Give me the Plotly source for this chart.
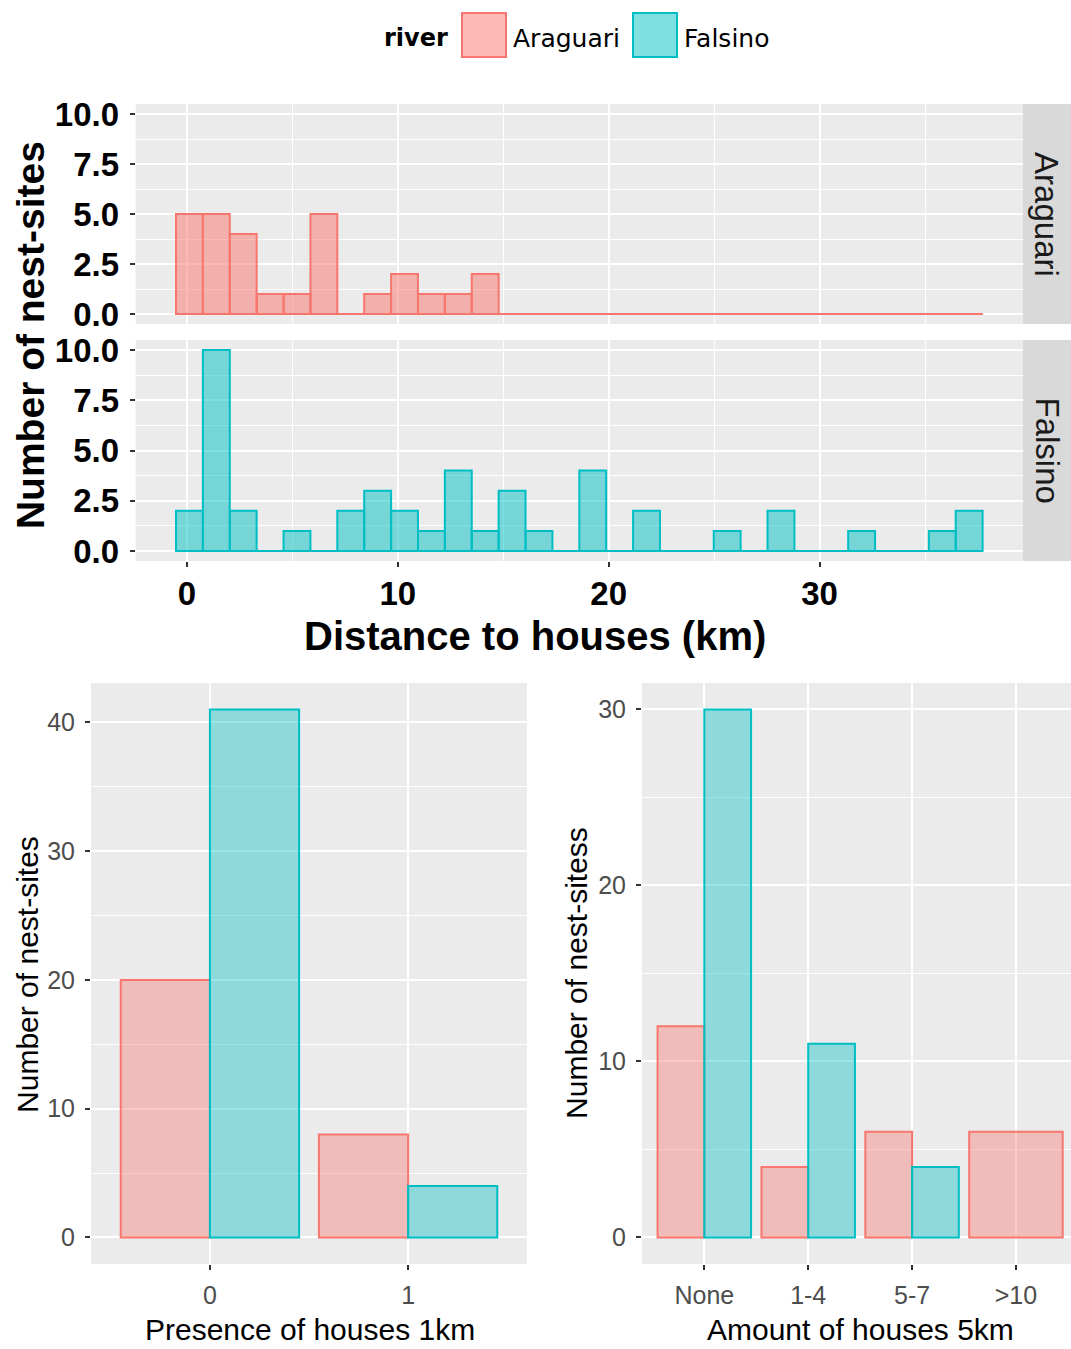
import plotly.graph_objects as go

# ---------------- data ----------------
river_names = ["Araguari", "Falsino"]

# histogram of distance to houses (km): 30 bins
hist_bin_start = -0.52      # left edge of first bin (km)
hist_bin_width = 1.275      # bin width (km)
araguari_counts = [5, 5, 4, 1, 1, 5, 0, 1, 2, 1, 1, 2, 0, 0, 0,
                   0, 0, 0, 0, 0, 0, 0, 0, 0, 0, 0, 0, 0, 0, 0]
falsino_counts = [2, 10, 2, 0, 1, 0, 2, 3, 2, 1, 4, 1, 3, 1, 0,
                  4, 0, 2, 0, 0, 1, 0, 2, 0, 0, 1, 0, 0, 1, 2]

presence_categories = ["0", "1"]
presence_araguari = [20, 8]
presence_falsino = [41, 4]

amount_categories = ["None", "1-4", "5-7", ">10"]
amount_araguari = [12, 4, 6, 6]
amount_falsino = [30, 11, 4, None]

# ---------------- style ----------------
W, H = 1071, 1349
ARA = "#F8766D"
FAL = "#00BFC4"
ARA_FILL_TOP = "rgba(248,118,109,0.5)"
FAL_FILL_TOP = "rgba(0,191,196,0.5)"
ARA_FILL_BOT = "rgba(248,118,109,0.4)"
FAL_FILL_BOT = "rgba(0,191,196,0.4)"
BG = "#EBEBEB"
FONT = "Liberation Sans"

# observed vertical rendering: y_shown ~= 7.9 + 0.9883 * y_layout
V_OFF, V_SCALE = 7.9, 0.9883


def px(x):
    return x / W


def py(y):
    return 1 - ((y - V_OFF) / V_SCALE) / H


n_bins = len(araguari_counts)
bin_centers = [hist_bin_start + (i + 0.5) * hist_bin_width for i in range(n_bins)]
hist_left = hist_bin_start
hist_right = hist_bin_start + n_bins * hist_bin_width

fig = go.Figure()

# ---- histogram panels ----
for counts, fill, line, xa, ya in [
    (araguari_counts, ARA_FILL_TOP, ARA, "x", "y"),
    (falsino_counts, FAL_FILL_TOP, FAL, "x2", "y2"),
]:
    fig.add_trace(go.Scatter(
        x=[hist_left, hist_right], y=[0, 0], mode="lines",
        line=dict(color=line, width=2), xaxis=xa, yaxis=ya,
        showlegend=False, hoverinfo="skip"))
    fig.add_trace(go.Bar(
        x=bin_centers, y=counts, width=[hist_bin_width] * n_bins,
        marker=dict(color=fill, line=dict(color=line, width=2)),
        xaxis=xa, yaxis=ya, showlegend=False))


def dodge(a_vals, f_vals):
    a_w, a_o, f_w, f_o = [], [], [], []
    for a, f in zip(a_vals, f_vals):
        if a is not None and f is not None:
            a_w.append(0.45); a_o.append(-0.45)
            f_w.append(0.45); f_o.append(0.0)
        else:
            a_w.append(0.9); a_o.append(-0.45)
            f_w.append(0.9); f_o.append(-0.45)
    return a_w, a_o, f_w, f_o


for cats, a_vals, f_vals, xa, ya in [
    (presence_categories, presence_araguari, presence_falsino, "x3", "y3"),
    (amount_categories, amount_araguari, amount_falsino, "x4", "y4"),
]:
    a_w, a_o, f_w, f_o = dodge(a_vals, f_vals)
    fig.add_trace(go.Bar(
        x=cats, y=a_vals, width=a_w, offset=a_o,
        marker=dict(color=ARA_FILL_BOT, line=dict(color=ARA, width=2)),
        xaxis=xa, yaxis=ya, showlegend=False, name=river_names[0]))
    fig.add_trace(go.Bar(
        x=cats, y=f_vals, width=f_w, offset=f_o,
        marker=dict(color=FAL_FILL_BOT, line=dict(color=FAL, width=2)),
        xaxis=xa, yaxis=ya, showlegend=False, name=river_names[1]))

grid = dict(showgrid=True, gridcolor="white", gridwidth=2.2, zeroline=False,
            showline=False)
minor_grid = lambda d: dict(dtick=d, showgrid=True, gridcolor="white",
                            gridwidth=1.1, ticks="")
tick_top = dict(ticks="outside", ticklen=5, tickwidth=1.5, tickcolor="#333333",
                tickfont=dict(family=FONT, size=33, color="black", weight="bold"))
tick_bot = dict(ticks="outside", ticklen=5, tickwidth=1.5, tickcolor="#333333",
                tickfont=dict(family=FONT, size=25, color="#4D4D4D"))

hx_dom = [px(135.7), px(1022.7)]
fig.update_layout(
    width=W, height=H,
    margin=dict(l=0, r=0, t=0, b=0),
    paper_bgcolor="white", plot_bgcolor=BG,
    barmode="overlay",
    xaxis=dict(domain=hx_dom, range=[-2.43, 39.63], anchor="y",
               tick0=0, dtick=10, showticklabels=False, ticks="",
               minor=minor_grid(5), **grid),
    yaxis=dict(domain=[py(324), py(104)], range=[-0.5, 10.5], anchor="x",
               tick0=0, dtick=2.5, tickformat=".1f", ticklabelstandoff=4,
               minor=minor_grid(1.25), **grid, **tick_top),
    xaxis2=dict(domain=hx_dom, range=[-2.43, 39.63], anchor="y2",
                tick0=0, dtick=10, ticklabelstandoff=-2,
                minor=minor_grid(5), **grid, **tick_top),
    yaxis2=dict(domain=[py(561), py(340)], range=[-0.5, 10.5], anchor="x2",
                tick0=0, dtick=2.5, tickformat=".1f", ticklabelstandoff=4,
                minor=minor_grid(1.25), **grid, **tick_top),
    xaxis3=dict(domain=[px(91), px(527)], type="category", range=[-0.6, 1.6],
                anchor="y3", ticklabelstandoff=4, **grid, **tick_bot),
    yaxis3=dict(domain=[py(1264), py(683)], range=[-2.05, 43.05], anchor="x3",
                tick0=0, dtick=10, ticklabelstandoff=5,
                minor=minor_grid(5), **grid, **tick_bot),
    xaxis4=dict(domain=[px(642), 1.0], type="category", range=[-0.6, 3.53],
                anchor="y4", ticklabelstandoff=4, **grid, **tick_bot),
    yaxis4=dict(domain=[py(1264), py(683)], range=[-1.5, 31.5], anchor="x4",
                tick0=0, dtick=10, ticklabelstandoff=5,
                minor=minor_grid(5), **grid, **tick_bot),
)

shapes = []
annotations = []

# facet strips
for label, y0, y1 in [(river_names[0], 104, 324), (river_names[1], 340, 561)]:
    shapes.append(dict(type="rect", xref="paper", yref="paper",
                       x0=px(1022.7), x1=1.0, y0=py(y1), y1=py(y0),
                       fillcolor="#D9D9D9", line=dict(width=0), layer="below"))
    annotations.append(dict(text=label, xref="paper", yref="paper",
                            x=px(1047), y=py((y0 + y1) / 2), textangle=90,
                            showarrow=False, xanchor="center", yanchor="middle",
                            font=dict(family=FONT, size=33, color="#1A1A1A")))

# legend
annotations.append(dict(text="<b>river</b>", xref="paper", yref="paper",
                        x=px(382), y=py(38), xanchor="left", yanchor="middle",
                        showarrow=False,
                        font=dict(family="DejaVu Sans", size=24, color="black")))
for label, x0, fill, line in [(river_names[0], 462, ARA_FILL_TOP, ARA),
                              (river_names[1], 633, FAL_FILL_TOP, FAL)]:
    shapes.append(dict(type="rect", xref="paper", yref="paper",
                       x0=px(x0), x1=px(x0 + 44), y0=py(57), y1=py(13),
                       fillcolor=fill, line=dict(color=line, width=2)))
    annotations.append(dict(text=label, xref="paper", yref="paper",
                            x=px(x0 + 49), y=py(38), xanchor="left",
                            yanchor="middle", showarrow=False,
                            font=dict(family="DejaVu Sans", size=25, color="black")))

# axis titles
annotations += [
    dict(text="<b>Number of nest-sites</b>", x=px(30), y=py(335), textangle=-90,
         font=dict(family=FONT, size=39, color="black")),
    dict(text="<b>Distance to houses (km)</b>", x=px(535), y=py(636),
         font=dict(family=FONT, size=40, color="black")),
    dict(text="Number of nest-sites", x=px(28), y=py(975), textangle=-90,
         font=dict(family=FONT, size=30, color="black")),
    dict(text="Presence of houses 1km", x=px(310), y=py(1330),
         font=dict(family=FONT, size=30, color="black")),
    dict(text="Number of nest-sitess", x=px(577), y=py(973), textangle=-90,
         font=dict(family=FONT, size=30, color="black")),
    dict(text="Amount of houses 5km", x=px(860), y=py(1330),
         font=dict(family=FONT, size=30, color="black")),
]
for a in annotations[-6:]:
    a.update(xref="paper", yref="paper", showarrow=False,
             xanchor="center", yanchor="middle")

fig.update_layout(shapes=shapes, annotations=annotations)

fig.write_html("out.html")
